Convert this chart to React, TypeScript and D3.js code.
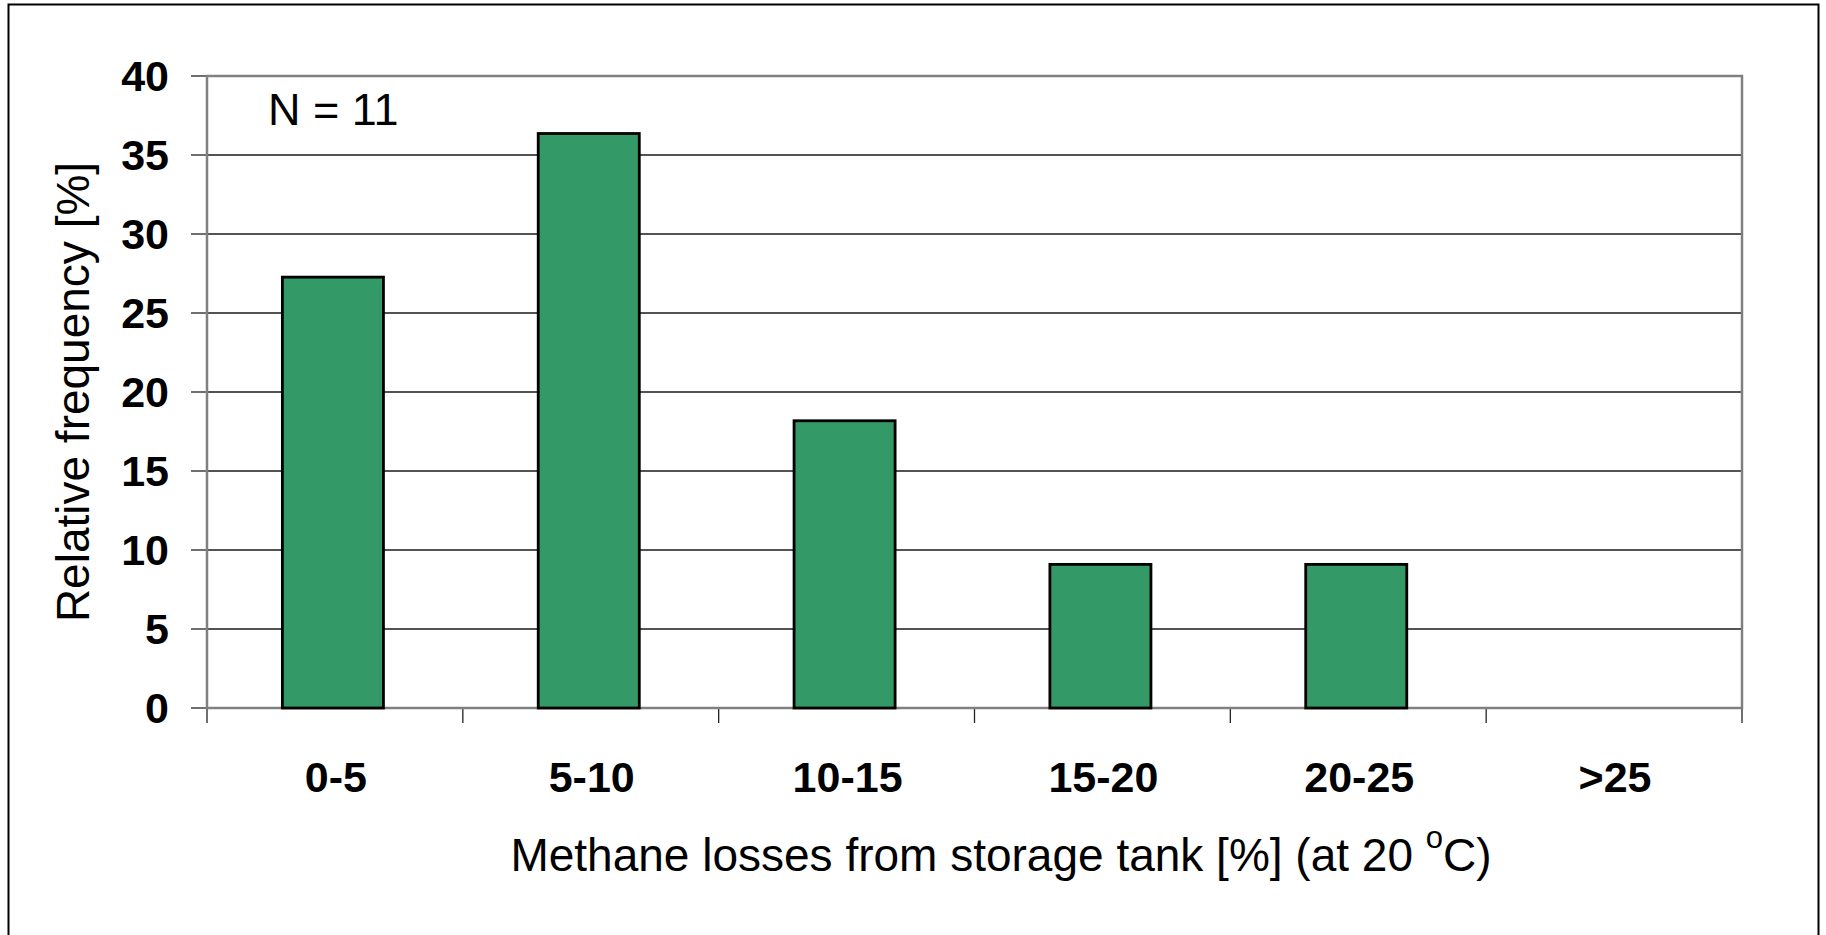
import React from "react";
import * as d3 from "d3";

const categories = ["0-5", "5-10", "10-15", "15-20", "20-25", ">25"];
const frequencies = [27.27, 36.36, 18.18, 9.09, 9.09, 0];
const yTicks = [0, 5, 10, 15, 20, 25, 30, 35, 40];
const annotation = "N = 11";
const xTitle = "Methane losses from storage tank [%] (at 20 ";
const yTitle = "Relative frequency [%]";

const W = 1826;
const H = 935;
const plot = { left: 207, right: 1742, top: 76, bottom: 708 };
const FONT = "Liberation Sans, Arial, sans-serif";

export default function App() {
  const x = d3
    .scaleBand<string>()
    .domain(categories)
    .range([plot.left - 2, plot.right - 2])
    .paddingInner(0.605)
    .paddingOuter(0.3025);
  const xOuter = d3.scaleBand<string>().domain(categories).range([plot.left, plot.right]);
  const y = d3.scaleLinear().domain([0, 40]).range([plot.bottom, plot.top]);

  const boundaries = [...categories.map((c) => xOuter(c) as number), plot.right];

  return (
    <svg
      width={W}
      height={H}
      style={{ position: "absolute", left: 0, top: 0, background: "#fff" }}
      fontFamily={FONT}
    >
      <rect x={8.5} y={4.5} width={1810} height={940} fill="#fff" stroke="#000" strokeWidth={2} />
      {/* gridlines */}
      {yTicks.filter((t) => t > 0 && t < 40).map((t) => (
        <line key={t} x1={plot.left} x2={plot.right} y1={y(t)} y2={y(t)} stroke="#1a1a1a" strokeWidth={1.4} />
      ))}
      {/* y tick marks */}
      {yTicks.map((t) => (
        <line key={"yt" + t} x1={191} x2={plot.left} y1={y(t)} y2={y(t)} stroke="#222" strokeWidth={1.3} />
      ))}
      {/* x tick marks */}
      {boundaries.map((b, i) => (
        <line key={"xt" + i} x1={b} x2={b} y1={plot.bottom} y2={plot.bottom + 15} stroke="#222" strokeWidth={1.3} />
      ))}
      {/* plot frame */}
      <rect
        x={plot.left}
        y={plot.top}
        width={plot.right - plot.left}
        height={plot.bottom - plot.top}
        fill="none"
        stroke="#808080"
        strokeWidth={2.5}
      />
      {/* bars */}
      {categories.map((c, i) =>
        frequencies[i] > 0 ? (
          <rect
            key={c}
            x={x(c)}
            y={y(frequencies[i])}
            width={x.bandwidth()}
            height={y(0) - y(frequencies[i])}
            fill="#339966"
            stroke="#000"
            strokeWidth={2.8}
          />
        ) : null
      )}
      {/* y tick labels */}
      {yTicks.map((t) => (
        <text key={"yl" + t} x={169} y={y(t) + 15} textAnchor="end" fontSize={43} fontWeight="bold">
          {t}
        </text>
      ))}
      {/* x tick labels */}
      {categories.map((c) => (
        <text
          key={"xl" + c}
          x={(xOuter(c) as number) + xOuter.bandwidth() / 2 + 1}
          y={792}
          textAnchor="middle"
          fontSize={43}
          fontWeight="bold"
        >
          {c}
        </text>
      ))}
      <text x={268} y={125} fontSize={45}>
        {annotation}
      </text>
      <text x={1001} y={871} textAnchor="middle" fontSize={46}>
        {xTitle}
        <tspan dy={-23} fontSize={31}>o</tspan>
        <tspan dy={23}>C)</tspan>
      </text>
      <text
        transform={`translate(89, ${(plot.top + plot.bottom) / 2}) rotate(-90)`}
        textAnchor="middle"
        fontSize={46}
      >
        {yTitle}
      </text>
    </svg>
  );
}
